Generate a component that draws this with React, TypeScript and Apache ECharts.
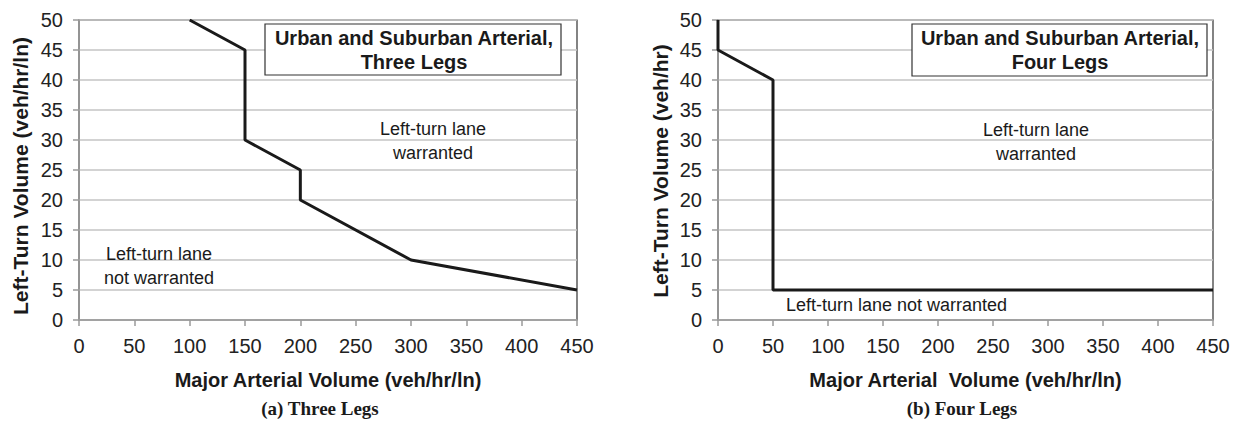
import React, { useEffect, useRef } from "react";
import * as echarts from "echarts";

const xTicks = [0, 50, 100, 150, 200, 250, 300, 350, 400, 450];
const yTicks = [0, 5, 10, 15, 20, 25, 30, 35, 40, 45, 50];

const threeLegsX = [100, 150, 150, 200, 200, 300, 450];
const threeLegsY = [50, 45, 30, 25, 20, 10, 5];

const fourLegsX = [0, 0, 50, 50, 450];
const fourLegsY = [50, 45, 40, 5, 5];

const panelTitles = ["Urban and Suburban Arterial,\nThree Legs", "Urban and Suburban Arterial,\nFour Legs"];
const captions = ["(a) Three Legs", "(b) Four Legs"];
const xNames = ["Major Arterial Volume (veh/hr/ln)", "Major Arterial  Volume (veh/hr/ln)"];
const yNames = ["Left-Turn Volume (veh/hr/ln)", "Left-Turn Volume (veh/hr)"];

const FONT = "'Liberation Sans', Arial, Helvetica, sans-serif";
const SERIF = "'Liberation Serif', 'Times New Roman', serif";

export default function App() {
  const ref = useRef<HTMLDivElement>(null);
  useEffect(() => {
    if (!ref.current) return;
    const chart = echarts.init(ref.current, null, { renderer: "svg" });
    const grids = [
      { left: 79, top: 20, width: 498, height: 300 },
      { left: 718, top: 20, width: 495, height: 300 },
    ];
    const mkX = (i: number) => ({
      type: "value",
      gridIndex: i,
      min: 0,
      max: 450,
      interval: 50,
      name: xNames[i],
      nameLocation: "middle",
      nameGap: 50,
      nameTextStyle: { fontFamily: FONT, fontSize: 20, fontWeight: "bold", color: "#1a1a1a" },
      axisLine: { show: true, lineStyle: { color: "#9a9a9a", width: 1.5 } },
      axisTick: { show: true, length: 6, lineStyle: { color: "#9a9a9a", width: 1.5 } },
      axisLabel: { fontFamily: FONT, fontSize: 20, color: "#222", margin: 16 },
      splitLine: { show: false },
    });
    const mkY = (i: number) => ({
      type: "value",
      gridIndex: i,
      min: 0,
      max: 50,
      interval: 5,
      axisLine: { show: true, lineStyle: { color: "#9a9a9a", width: 1.5 } },
      axisTick: { show: true, length: 6, lineStyle: { color: "#9a9a9a", width: 1.5 } },
      axisLabel: { fontFamily: FONT, fontSize: 20, color: "#222", margin: 16 },
      splitLine: { show: true, lineStyle: { color: "#c4c4c4", width: 1.5 } },
    });
    const lineStyle = { color: "#1a1a1a", width: 3 };
    const textStyle = (extra: any) => ({
      fontFamily: FONT,
      fontSize: 18,
      fill: "#1a1a1a",
      textAlign: "center",
      textVerticalAlign: "middle",
      lineHeight: 24,
      ...extra,
    });
    chart.setOption({
      animation: false,
      backgroundColor: "#ffffff",
      grid: grids.map((g) => ({ ...g, show: true, borderColor: "#333", borderWidth: 1.2, backgroundColor: "transparent" })),
      xAxis: [mkX(0), mkX(1)],
      yAxis: [mkY(0), mkY(1)],
      series: [
        {
          type: "line",
          xAxisIndex: 0,
          yAxisIndex: 0,
          data: threeLegsX.map((x, k) => [x, threeLegsY[k]]),
          showSymbol: false,
          lineStyle,
          z: 5,
        },
        {
          type: "line",
          xAxisIndex: 1,
          yAxisIndex: 1,
          data: fourLegsX.map((x, k) => [x, fourLegsY[k]]),
          showSymbol: false,
          lineStyle,
          z: 5,
        },
      ],
      graphic: [
        { type: "text", x: 20, y: 176, rotation: Math.PI / 2, style: textStyle({ text: yNames[0], fontWeight: "bold", fontSize: 21 }), z: 11 },
        { type: "text", x: 660, y: 171, rotation: Math.PI / 2, style: textStyle({ text: yNames[1], fontWeight: "bold", fontSize: 21 }), z: 11 },
        { type: "rect", shape: { x: 265, y: 24, width: 296, height: 51 }, style: { fill: "#fff", stroke: "#333", lineWidth: 1.2 }, z: 10 },
        { type: "text", x: 414, y: 50, style: textStyle({ text: panelTitles[0], fontWeight: "bold", fontSize: 20 }), z: 11 },
        { type: "rect", shape: { x: 912, y: 24, width: 295, height: 52 }, style: { fill: "#fff", stroke: "#333", lineWidth: 1.2 }, z: 10 },
        { type: "text", x: 1060, y: 50, style: textStyle({ text: panelTitles[1], fontWeight: "bold", fontSize: 20 }), z: 11 },
        { type: "text", x: 433, y: 141, style: textStyle({ text: "Left-turn lane\nwarranted" }), z: 11 },
        { type: "text", x: 159, y: 266, style: textStyle({ text: "Left-turn lane\nnot warranted" }), z: 11 },
        { type: "text", x: 1036, y: 142, style: textStyle({ text: "Left-turn lane\nwarranted" }), z: 11 },
        { type: "text", x: 786, y: 305, style: textStyle({ text: "Left-turn lane not warranted", textAlign: "left" }), z: 11 },
        { type: "text", x: 320, y: 408, style: textStyle({ text: captions[0], fontFamily: SERIF, fontWeight: "bold", fontSize: 19 }), z: 11 },
        { type: "text", x: 962, y: 408, style: textStyle({ text: captions[1], fontFamily: SERIF, fontWeight: "bold", fontSize: 19 }), z: 11 },
      ],
    });
    return () => chart.dispose();
  }, []);
  return <div ref={ref} style={{ position: "fixed", left: 0, top: 0, width: 1236, height: 421, background: "#fff" }} />;
}
